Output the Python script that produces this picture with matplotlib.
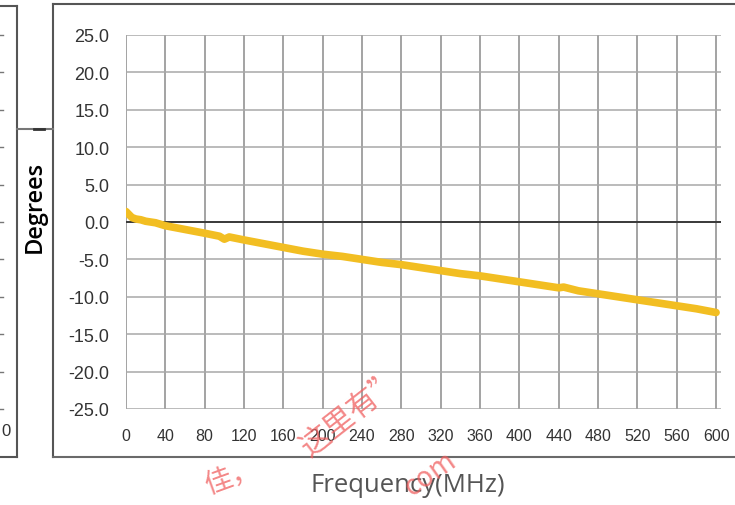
import matplotlib.pyplot as plt
from matplotlib.lines import Line2D

# phase vs frequency
freq = [0, 3, 6, 10, 15, 20, 30, 40, 60, 80, 95, 100, 105, 120, 140, 160, 180,
        200, 220, 240, 255, 260, 280, 300, 320, 340, 360, 380, 400, 420, 440,
        445, 460, 480, 500, 505, 520, 540, 560, 580, 600]
phase = [1.4, 1.0, 0.6, 0.4, 0.3, 0.1, -0.1, -0.5, -1.0, -1.5, -1.9, -2.3, -2.0,
         -2.4, -2.9, -3.4, -3.9, -4.3, -4.6, -5.0, -5.3, -5.4, -5.7, -6.1, -6.5,
         -6.9, -7.2, -7.6, -8.0, -8.4, -8.8, -8.7, -9.2, -9.6, -10.0, -10.1,
         -10.4, -10.8, -11.2, -11.6, -12.1]

xticks = list(range(0, 601, 40))
yticks = [-25, -20, -15, -10, -5, 0, 5, 10, 15, 20, 25]

W, H = 735, 506
fig = plt.figure(figsize=(W / 100, H / 100), dpi=100)
fig.patch.set_facecolor('white')


def px(x, y):
    # pixel position -> figure fraction
    return x / W, 1 - y / H


ax = fig.add_axes([126 / W, 1 - 410 / H, (721 - 126) / W, (410 - 36) / H])
ax.set_xlim(0, 605)
ax.set_ylim(-25, 25)
for s in ax.spines.values():
    s.set_visible(False)

# grid
for x in xticks:
    ax.axvline(x, color='#8a8a8a', lw=1.1, zorder=1)
for y in yticks:
    ax.axhline(y, color='#a8a8a8', lw=1.1, zorder=1)
ax.axhline(0, color='#3a3a3a', lw=1.4, zorder=2)

ax.plot(freq, phase, color='#F2BE22', lw=5.5, solid_capstyle='round', zorder=3)

ax.set_xticks(xticks)
ax.set_xticklabels([str(v) for v in xticks], fontsize=11.5, color='#333333',
                   family='Liberation Sans')
ax.set_yticks(yticks)
ax.set_yticklabels(['%.1f' % v for v in yticks], fontsize=13, color='#333333',
                   family='Liberation Sans')
ax.tick_params(length=0)
ax.tick_params(axis='x', pad=14)
ax.tick_params(axis='y', pad=12)

# frames around the panels
def line(x0, y0, x1, y1, c='#555555', lw=1.5):
    a, b = px(x0, y0)
    c2, d = px(x1, y1)
    fig.add_artist(Line2D([a, c2], [b, d], color=c, lw=lw))

line(53, 5, 735, 5)
line(53, 5, 53, 458)
line(53, 458, 735, 458, c='#6a6a6a')
line(0, 7, 17, 7)
line(17, 7, 17, 458)
line(0, 458, 17, 458)
line(17, 130, 53, 130, c='#777777')
line(34, 130, 44, 130, c='#333333', lw=2)
for y in yticks:
    yy = 410 - (y + 25) * 374 / 50
    line(0, yy, 3, yy, c='#777777', lw=1)
fig.text(*px(1, 432), '0', fontsize=12, color='#333333', ha='left', va='center',
         family='Liberation Sans')

fig.text(*px(35, 207), 'Degrees', rotation=90, fontsize=17, color='black',
         fontweight='semibold', ha='center', va='center', family='Open Sans')
fig.text(*px(408, 486), 'Frequency(MHz)', fontsize=18.5, color='#555555',
         ha='center', va='center', family='Open Sans')

# red watermark
wm = dict(color='#f06060', alpha=0.75, ha='center', va='center',
          family=['Noto Sans CJK SC', 'DejaVu Sans'])
fig.text(*px(352, 413), '这里有”', rotation=38, fontsize=22, **wm)
fig.text(*px(232, 478), '佳，', rotation=20, fontsize=20, **wm)
fig.text(*px(430, 474), 'com', rotation=35, fontsize=20, style='italic', **wm)

fig.savefig('out.png', dpi=100)
